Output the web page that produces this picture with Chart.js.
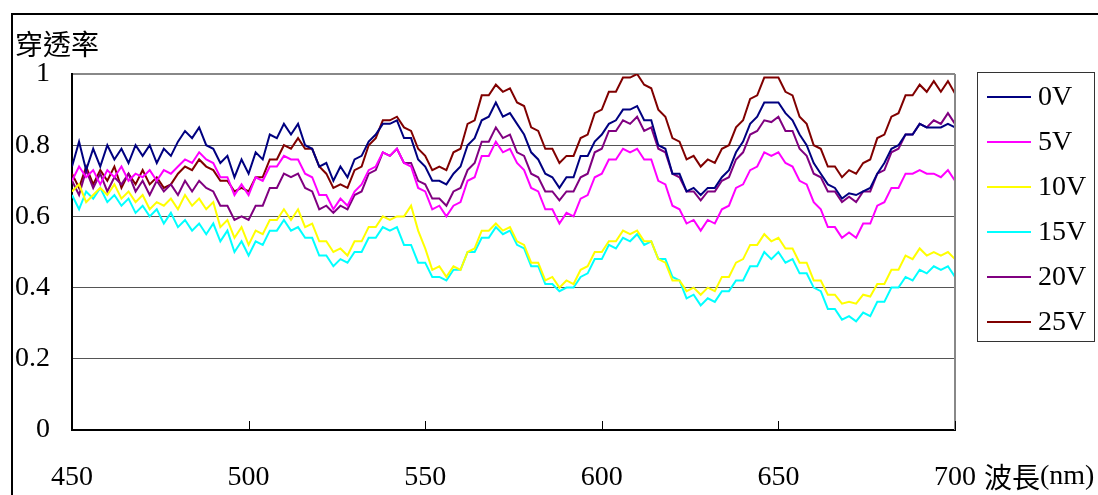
<!DOCTYPE html>
<html>
<head>
<meta charset="utf-8">
<script src="https://cdn.jsdelivr.net/npm/chart.js@4"></script>
<style>
  html, body { margin: 0; padding: 0; background: #fff; }
  #wrap { width: 1098px; height: 495px; }
</style>
</head>
<body>
<div id="wrap"><canvas id="myChart" width="1098" height="495"></canvas></div>
<script>
// wavelength (nm), one reading every 2 nm
const wavelengths = [
  450,452,454,456,458,460,462,464,466,468,
  470,472,474,476,478,480,482,484,486,488,
  490,492,494,496,498,500,502,504,506,508,
  510,512,514,516,518,520,522,524,526,528,
  530,532,534,536,538,540,542,544,546,548,
  550,552,554,556,558,560,562,564,566,568,
  570,572,574,576,578,580,582,584,586,588,
  590,592,594,596,598,600,602,604,606,608,
  610,612,614,616,618,620,622,624,626,628,
  630,632,634,636,638,640,642,644,646,648,
  650,652,654,656,658,660,662,664,666,668,
  670,672,674,676,678,680,682,684,686,688,
  690,692,694,696,698,700
];

const v0 = [
  0.74,0.81,0.73,0.79,0.74,0.80,0.76,0.79,0.75,0.80,
  0.77,0.80,0.75,0.79,0.77,0.81,0.84,0.82,0.85,0.80,
  0.79,0.75,0.77,0.71,0.76,0.72,0.78,0.76,0.83,0.82,
  0.86,0.83,0.86,0.80,0.79,0.74,0.75,0.70,0.74,0.71,
  0.76,0.77,0.81,0.83,0.86,0.86,0.87,0.82,0.82,0.76,
  0.74,0.70,0.70,0.69,0.72,0.74,0.80,0.82,0.87,0.88,
  0.92,0.88,0.89,0.86,0.83,0.78,0.76,0.72,0.71,0.68,
  0.71,0.71,0.77,0.77,0.81,0.83,0.86,0.87,0.90,0.90,
  0.91,0.87,0.87,0.80,0.79,0.72,0.72,0.67,0.68,0.66,
  0.68,0.68,0.71,0.73,0.78,0.81,0.86,0.88,0.92,0.92,
  0.92,0.89,0.87,0.83,0.80,0.75,0.72,0.69,0.68,0.65,
  0.665,0.66,0.67,0.68,0.72,0.75,0.79,0.80,0.83,0.83,
  0.86,0.85,0.85,0.85,0.86,0.85
];
const v5 = [
  0.70,0.74,0.71,0.73,0.69,0.73,0.71,0.74,0.70,0.72,
  0.71,0.73,0.70,0.73,0.72,0.74,0.76,0.75,0.78,0.76,
  0.75,0.71,0.71,0.66,0.69,0.66,0.71,0.70,0.74,0.74,
  0.77,0.76,0.76,0.72,0.71,0.66,0.66,0.62,0.65,0.63,
  0.67,0.69,0.73,0.74,0.78,0.77,0.79,0.75,0.74,0.68,
  0.67,0.62,0.63,0.60,0.63,0.64,0.70,0.71,0.77,0.77,
  0.81,0.78,0.79,0.75,0.73,0.68,0.67,0.62,0.62,0.58,
  0.61,0.60,0.65,0.66,0.71,0.72,0.76,0.76,0.79,0.78,
  0.79,0.76,0.76,0.70,0.69,0.63,0.62,0.58,0.59,0.56,
  0.59,0.58,0.62,0.63,0.68,0.69,0.73,0.74,0.78,0.77,
  0.78,0.75,0.74,0.70,0.69,0.64,0.62,0.57,0.57,0.54,
  0.555,0.54,0.58,0.58,0.63,0.64,0.68,0.68,0.72,0.72,
  0.73,0.72,0.72,0.71,0.73,0.70
];
const v10 = [
  0.67,0.69,0.64,0.66,0.68,0.66,0.69,0.65,0.67,0.64,
  0.66,0.62,0.64,0.63,0.65,0.62,0.66,0.63,0.65,0.62,
  0.64,0.57,0.59,0.54,0.57,0.52,0.56,0.55,0.59,0.59,
  0.62,0.59,0.62,0.57,0.58,0.53,0.53,0.50,0.51,0.49,
  0.53,0.53,0.57,0.57,0.60,0.59,0.60,0.60,0.63,0.56,
  0.51,0.45,0.46,0.43,0.46,0.45,0.50,0.51,0.56,0.56,
  0.58,0.56,0.57,0.53,0.52,0.47,0.47,0.42,0.43,0.40,
  0.42,0.41,0.45,0.46,0.50,0.50,0.53,0.53,0.56,0.55,
  0.56,0.53,0.53,0.48,0.47,0.42,0.42,0.39,0.40,0.38,
  0.40,0.39,0.43,0.43,0.47,0.48,0.52,0.52,0.55,0.53,
  0.54,0.51,0.51,0.47,0.47,0.42,0.42,0.38,0.38,0.355,
  0.36,0.355,0.38,0.375,0.41,0.41,0.45,0.45,0.49,0.48,
  0.51,0.49,0.50,0.49,0.50,0.48
];
const v15 = [
  0.66,0.62,0.67,0.65,0.68,0.64,0.66,0.63,0.65,0.61,
  0.63,0.60,0.62,0.58,0.61,0.57,0.59,0.56,0.58,0.55,
  0.58,0.53,0.56,0.50,0.53,0.49,0.53,0.52,0.56,0.56,
  0.59,0.56,0.57,0.54,0.54,0.49,0.49,0.46,0.48,0.47,
  0.50,0.50,0.54,0.54,0.57,0.56,0.57,0.52,0.52,0.47,
  0.47,0.43,0.43,0.42,0.45,0.45,0.50,0.50,0.54,0.54,
  0.57,0.55,0.56,0.52,0.51,0.46,0.46,0.41,0.41,0.39,
  0.40,0.40,0.43,0.44,0.48,0.48,0.52,0.51,0.54,0.53,
  0.55,0.52,0.53,0.48,0.48,0.43,0.42,0.37,0.38,0.35,
  0.37,0.36,0.39,0.39,0.42,0.42,0.46,0.46,0.50,0.48,
  0.50,0.47,0.48,0.44,0.44,0.40,0.39,0.34,0.34,0.31,
  0.32,0.305,0.33,0.32,0.36,0.36,0.40,0.40,0.43,0.42,
  0.45,0.44,0.46,0.45,0.46,0.43
];
const v20 = [
  0.70,0.66,0.73,0.68,0.72,0.67,0.71,0.69,0.72,0.67,
  0.70,0.66,0.70,0.67,0.69,0.66,0.70,0.67,0.70,0.68,
  0.67,0.63,0.63,0.59,0.60,0.59,0.63,0.63,0.68,0.68,
  0.72,0.71,0.72,0.68,0.67,0.62,0.63,0.61,0.63,0.62,
  0.66,0.67,0.72,0.73,0.78,0.77,0.79,0.75,0.75,0.70,
  0.69,0.65,0.65,0.63,0.67,0.68,0.73,0.75,0.81,0.81,
  0.85,0.82,0.83,0.78,0.77,0.72,0.71,0.67,0.67,0.645,
  0.67,0.67,0.71,0.72,0.78,0.79,0.84,0.84,0.87,0.86,
  0.88,0.84,0.85,0.79,0.78,0.72,0.71,0.67,0.67,0.645,
  0.67,0.67,0.70,0.71,0.76,0.78,0.83,0.84,0.87,0.865,
  0.88,0.84,0.84,0.79,0.77,0.72,0.71,0.67,0.67,0.64,
  0.655,0.64,0.67,0.67,0.72,0.73,0.78,0.79,0.83,0.83,
  0.86,0.85,0.87,0.86,0.89,0.86
];
const v25 = [
  0.72,0.68,0.74,0.69,0.73,0.70,0.74,0.68,0.72,0.69,
  0.73,0.69,0.71,0.68,0.69,0.72,0.74,0.73,0.76,0.74,
  0.73,0.70,0.70,0.67,0.68,0.67,0.71,0.71,0.76,0.76,
  0.80,0.79,0.82,0.79,0.79,0.74,0.72,0.68,0.69,0.68,
  0.73,0.74,0.80,0.82,0.87,0.87,0.88,0.85,0.84,0.79,
  0.77,0.73,0.74,0.73,0.78,0.79,0.86,0.87,0.94,0.94,
  0.97,0.95,0.96,0.92,0.91,0.85,0.84,0.79,0.79,0.75,
  0.77,0.77,0.82,0.83,0.89,0.90,0.95,0.95,0.99,0.99,
  1.0,0.97,0.96,0.90,0.88,0.82,0.81,0.76,0.77,0.74,
  0.76,0.75,0.79,0.80,0.85,0.87,0.93,0.94,0.99,0.99,
  0.99,0.95,0.94,0.88,0.86,0.80,0.79,0.74,0.74,0.71,
  0.73,0.72,0.75,0.76,0.82,0.83,0.88,0.89,0.94,0.94,
  0.97,0.95,0.98,0.95,0.98,0.945
];

const seriesNames = ['0V', '5V', '10V', '15V', '20V', '25V'];
const seriesColors = ['#000080', '#FF00FF', '#FFFF00', '#00FFFF', '#800080', '#800000'];
const seriesValues = [v0, v5, v10, v15, v20, v25];

const xTicks = [450, 500, 550, 600, 650, 700];
const yTicks = [0, 0.2, 0.4, 0.6, 0.8, 1];

const yTitle = '穿透率';
const xTitle = '波長(nm)';

const serif = "'Liberation Serif', 'Times New Roman', serif";
const cjk = "'Noto Sans CJK TC', 'Noto Sans CJK SC', sans-serif";

var ctx = document.getElementById('myChart').getContext('2d');

// frame, titles, inward ticks and the boxed legend
const extras = {
  id: 'extras',
  afterDraw(chart) {
    const c = chart.ctx
    const area = chart.chartArea
    const xs = chart.scales.x
    c.save()

    // outer chart frame (cut by the picture edge)
    c.strokeStyle = '#000'
    c.lineWidth = 2
    c.beginPath()
    c.moveTo(12, 600); c.lineTo(12, 14); c.lineTo(1200, 14)
    c.stroke()

    // right border of plot
    c.strokeStyle = '#888'
    c.lineWidth = 2
    c.beginPath()
    c.moveTo(area.right, area.top); c.lineTo(area.right, area.bottom)
    c.stroke()

    // small inward ticks on the x axis
    c.strokeStyle = '#000'
    c.lineWidth = 1
    xTicks.forEach(v => {
      const px = Math.round(xs.getPixelForValue(v)) + 0.5
      c.beginPath()
      c.moveTo(px, area.bottom)
      c.lineTo(px, area.bottom - 9)
      c.stroke()
    })

    // axis titles
    c.fillStyle = '#000'
    c.textBaseline = 'middle'
    c.textAlign = 'left'
    c.font = '28px ' + cjk
    c.fillText(yTitle, 15, 44)
    const t1 = xTitle.slice(0, 2)
    const t2 = xTitle.slice(2)
    c.fillText(t1, 984, 477)
    const w1 = c.measureText(t1).width
    c.font = '28px ' + serif
    c.fillText(t2, 984 + w1, 477)

    // legend
    c.strokeStyle = '#333'
    c.lineWidth = 1
    c.strokeRect(977.5, 72.5, 117, 269)
    c.font = '28px ' + serif
    chart.data.datasets.forEach((ds, i) => {
      const y = 97 + 45 * i
      c.strokeStyle = ds.borderColor
      c.lineWidth = 2
      c.beginPath()
      c.moveTo(987, y); c.lineTo(1031, y)
      c.stroke()
      c.fillStyle = '#000'
      c.fillText(ds.label, 1038, y + 1)
    })
    c.restore()
  }
};

var config = {
  type: 'line',
  data: {
    datasets: seriesNames.map((name, i) => ({
      label: name,
      data: wavelengths.map((w, j) => ({ x: w, y: seriesValues[i][j] })),
      borderColor: seriesColors[i],
      backgroundColor: seriesColors[i],
      borderWidth: 2,
      pointRadius: 0,
      tension: 0,
      fill: false
    }))
  },
  options: {
    responsive: false,
    animation: false,
    layout: { padding: { top: 74, right: 143, left: 0, bottom: 0 } },
    plugins: {
      legend: { display: false },
      tooltip: { enabled: false }
    },
    scales: {
      x: {
        type: 'linear',
        min: 450,
        max: 700,
        afterBuildTicks: s => { s.ticks = xTicks.map(v => ({ value: v })) },
        afterFit: s => { s.height = 65 },
        grid: { drawOnChartArea: false, drawTicks: false },
        border: { display: true, color: '#000', width: 2 },
        ticks: {
          autoSkip: false,
          maxRotation: 0,
          padding: 31,
          color: '#000',
          font: { family: serif, size: 28 }
        }
      },
      y: {
        min: 0,
        max: 1,
        afterBuildTicks: s => { s.ticks = yTicks.map(v => ({ value: v })) },
        afterFit: s => { s.width = 72 },
        grid: {
          drawTicks: false,
          color: c => c.tick.value === 1 ? '#888' : (c.tick.value === 0 ? 'rgba(0,0,0,0)' : '#555'),
          lineWidth: c => c.tick.value === 1 ? 2 : 1
        },
        border: { display: true, color: '#000', width: 2 },
        ticks: {
          padding: 22,
          color: '#000',
          font: { family: serif, size: 28 },
          callback: v => String(Math.round(v * 10) / 10)
        }
      }
    }
  },
  plugins: [extras]
};

var myChart = new Chart(ctx, config);
</script>
</body>
</html>
